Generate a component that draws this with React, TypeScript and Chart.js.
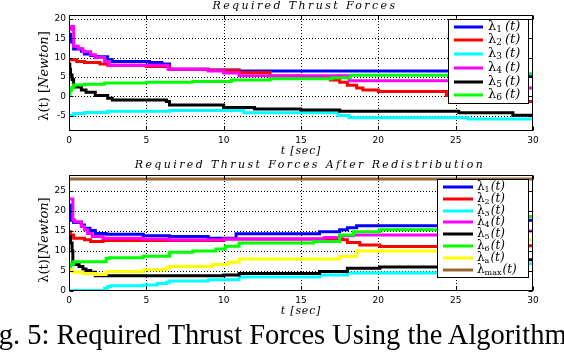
import React, { useEffect, useRef } from "react";
import { Chart, registerables } from "chart.js";
Chart.register(...registerables);

// ---------- axes ----------
const xTicks = [0, 5, 10, 15, 20, 25, 30];
const yTicksTop = [-5, 0, 5, 10, 15, 20];
const yTicksBottom = [0, 5, 10, 15, 20, 25];

// ---------- top plot: Required Thrust Forces ----------
const topL1T = [0, 0.1, 0.3, 0.8, 1.0, 1.4, 1.7, 2.5, 2.8, 5.2, 6.0, 6.5, 9.0, 11.0, 25.5, 30];
const topL1V = [16.0, 14.0, 12.2, 11.6, 10.9, 10.5, 10.2, 9.4, 9.0, 8.7, 8.3, 7.0, 6.8, 6.5, 5.2, 5.2];
const topL2T = [0, 0.5, 1.0, 2.0, 2.5, 5.0, 6.5, 9.0, 11.0, 13.0, 15.0, 16.9, 17.5, 18.0, 18.6, 19.0, 20.0, 24.4, 27, 30];
const topL2V = [9.4, 9.0, 8.7, 8.3, 8.0, 7.7, 7.0, 6.7, 6.1, 5.2, 4.6, 4.2, 3.6, 2.8, 2.1, 1.6, 1.2, 0.2, -1.4, -1.4];
const topL3T = [0, 0.3, 1.0, 2.5, 6.5, 11.3, 17.4, 18.1, 25.8, 30];
const topL3V = [-5.0, -4.5, -4.2, -3.9, -3.7, -4.3, -5.0, -5.6, -5.9, -5.9];
const topL4T = [0, 0.1, 0.3, 0.6, 0.9, 1.4, 1.7, 2.3, 2.6, 6.4, 9.0, 10.0, 11.0, 18.1, 25.5, 30];
const topL4V = [17.3, 18.0, 12.9, 12.3, 11.5, 10.7, 10.0, 9.0, 8.0, 7.0, 6.5, 6.0, 5.3, 4.0, 2.1, 2.1];
const topL5T = [0, 0.05, 0.1, 0.2, 0.3, 0.8, 1.1, 1.7, 2.5, 2.8, 6.3, 6.5, 10.0, 12.0, 15.0, 17.5, 25.2, 28.7, 30];
const topL5V = [8.3, 7.0, 5.5, 4.3, 2.4, 1.6, 1.0, 0.2, -0.5, -1.0, -1.4, -2.3, -2.9, -3.3, -3.6, -3.9, -4.3, -4.9, -4.9];
const topL6T = [0, 0.05, 0.15, 0.3, 1.0, 2.3, 5.0, 8.0, 10.5, 13.0, 17.0, 18.2, 25.5, 30];
const topL6V = [0.5, 1.5, 2.2, 2.9, 3.1, 3.4, 3.6, 3.8, 4.2, 4.5, 4.8, 5.4, 5.8, 5.8];

// ---------- bottom plot: After Redistribution ----------
const botL1T = [0, 0.1, 0.3, 0.8, 1.0, 1.35, 1.7, 2.4, 4.8, 6.5, 9.0, 10.8, 16.2, 17.5, 18.0, 18.6, 25.5, 30];
const botL1V = [21.5, 17.7, 17.1, 16.5, 15.7, 15.1, 14.4, 14.2, 13.8, 13.6, 13.2, 14.3, 14.8, 15.3, 15.8, 16.3, 17.7, 17.7];
const botL2T = [0, 0.1, 0.3, 1.0, 1.4, 2.2, 10.0, 17.7, 18.0, 18.8, 20.1, 25.5, 30];
const botL2V = [14.8, 14.0, 13.2, 12.8, 12.4, 12.6, 13.0, 12.8, 12.1, 11.5, 11.1, 11.3, 11.3];
const botL3T = [0, 2.3, 2.5, 2.7, 4.8, 5.7, 6.3, 6.5, 9.0, 11.0, 16.2, 18.0, 25.5, 30];
const botL3V = [0.1, 0.7, 1.1, 1.3, 1.5, 1.9, 2.2, 2.5, 2.8, 3.5, 4.0, 4.5, 6.8, 6.8];
const botL4T = [0, 0.25, 0.35, 0.8, 1.0, 1.2, 1.5, 2.2, 4.8, 6.5, 10.0, 16.5, 17.5, 18.4, 25.5, 30];
const botL4V = [23.0, 17.8, 17.3, 16.1, 15.3, 14.4, 13.6, 13.2, 13.0, 12.8, 13.0, 13.4, 13.8, 14.0, 15.0, 15.0];
const botL5T = [0, 0.1, 0.2, 0.25, 0.65, 0.9, 1.1, 1.4, 1.7, 10.0, 11.0, 16.2, 18.0, 20.1, 25.5, 30];
const botL5V = [13.6, 12.0, 10.0, 6.6, 6.1, 5.5, 5.1, 4.7, 3.8, 4.0, 4.4, 4.9, 5.7, 6.0, 7.8, 7.8];
const botL6T = [0, 0.1, 0.3, 2.4, 2.6, 4.8, 6.5, 8.0, 9.5, 10.1, 11.0, 15.8, 17.5, 18.4, 20.1, 25.5, 30];
const botL6V = [6.0, 6.7, 7.3, 8.1, 8.3, 8.7, 9.7, 10.0, 10.5, 11.2, 12.0, 12.4, 14.0, 14.8, 15.3, 18.6, 18.6];
const botLaT = [0, 0.25, 0.9, 1.7, 2.4, 4.8, 6.3, 6.5, 9.3, 10.3, 11.0, 17.5, 18.6, 25.5, 30];
const botLaV = [5.3, 4.7, 4.4, 4.1, 4.9, 5.3, 5.8, 6.1, 6.6, 7.2, 8.0, 8.6, 10.0, 12.8, 12.8];
const botMaxT = [0, 30];
const botMaxV = [28, 28];

const topSubs = ["1", "2", "3", "4", "5", "6"];
const botSubs = ["1", "2", "3", "4", "5", "6", "a", "max"];
const topColors = ["#0000ff", "#ff0000", "#00ffff", "#ff00ff", "#000000", "#00ff00"];
const botColors = ["#0000ff", "#ff0000", "#00ffff", "#ff00ff", "#000000", "#00ff00", "#ffff00", "#996633"];

const topSeries = [
  [topL1T, topL1V], [topL2T, topL2V], [topL3T, topL3V],
  [topL4T, topL4V], [topL5T, topL5V], [topL6T, topL6V],
];
const botSeries = [
  [botL1T, botL1V], [botL2T, botL2V], [botL3T, botL3V], [botL4T, botL4V],
  [botL5T, botL5V], [botL6T, botL6V], [botLaT, botLaV], [botMaxT, botMaxV],
];

const pts = (ts: number[], vs: number[]) => ts.map((t, i) => ({ x: t, y: vs[i] }));

const framePlugin = {
  id: "matFrame",
  beforeDatasetsDraw(chart: any) {
    const { ctx, chartArea: a, scales } = chart;
    ctx.save();
    ctx.strokeStyle = "#000";
    ctx.lineWidth = 1;
    ctx.setLineDash([1, 2]);
    scales.x.ticks.forEach((t: any) => {
      const px = Math.round(scales.x.getPixelForValue(t.value)) + 0.5;
      if (px <= a.left + 1 || px >= a.right - 1) return;
      ctx.beginPath(); ctx.moveTo(px, a.top); ctx.lineTo(px, a.bottom); ctx.stroke();
    });
    scales.y.ticks.forEach((t: any) => {
      const py = Math.round(scales.y.getPixelForValue(t.value)) + 0.5;
      if (py <= a.top + 1 || py >= a.bottom - 1) return;
      ctx.beginPath(); ctx.moveTo(a.left, py); ctx.lineTo(a.right, py); ctx.stroke();
    });
    ctx.restore();
  },
  afterDatasetsDraw(chart: any) {
    const { ctx, chartArea: a, scales } = chart;
    ctx.save();
    ctx.strokeStyle = "#000";
    ctx.lineWidth = 1;
    ctx.setLineDash([]);
    const L = Math.round(a.left) + 0.5, R = Math.round(a.right) - 0.5;
    const T = Math.round(a.top) + 0.5, B = Math.round(a.bottom) - 0.5;
    ctx.strokeRect(L, T, R - L, B - T);
    const tl = 4;
    ctx.beginPath();
    scales.x.ticks.forEach((t: any) => {
      const px = Math.round(scales.x.getPixelForValue(t.value)) + 0.5;
      ctx.moveTo(px, B); ctx.lineTo(px, B - tl);
      ctx.moveTo(px, T); ctx.lineTo(px, T + tl);
    });
    scales.y.ticks.forEach((t: any) => {
      const py = Math.round(scales.y.getPixelForValue(t.value)) + 0.5;
      ctx.moveTo(L, py); ctx.lineTo(L + tl, py);
      ctx.moveTo(R, py); ctx.lineTo(R - tl, py);
    });
    ctx.stroke();
    ctx.restore();
  },
  afterDraw(chart: any) {
    const cfg = chart.options.plugins.boxLegend;
    if (!cfg) return;
    const { ctx } = chart;
    ctx.save();
    ctx.fillStyle = "#fff";
    ctx.fillRect(cfg.x, cfg.y, cfg.w, cfg.h);
    ctx.strokeStyle = "#000";
    ctx.lineWidth = 1;
    ctx.strokeRect(cfg.x + 0.5, cfg.y + 0.5, cfg.w, cfg.h);
    chart.data.datasets.forEach((ds: any, i: number) => {
      const cy = Math.round(cfg.firstY + i * cfg.rowH);
      ctx.strokeStyle = ds.borderColor;
      ctx.lineWidth = 3;
      ctx.beginPath(); ctx.moveTo(cfg.lineX0, cy); ctx.lineTo(cfg.lineX1, cy); ctx.stroke();
      ctx.fillStyle = "#000";
      ctx.textBaseline = "middle";
      ctx.textAlign = "left";
      let tx = cfg.textX;
      ctx.font = `${cfg.fontSize}px "DejaVu Serif"`;
      ctx.fillText("λ", tx, cy);
      tx += ctx.measureText("λ").width;
      ctx.font = `${cfg.subSize}px "DejaVu Serif"`;
      ctx.fillText(cfg.subs[i], tx, cy + 3);
      tx += ctx.measureText(cfg.subs[i]).width + cfg.gap;
      ctx.font = `italic ${cfg.fontSize}px "DejaVu Serif"`;
      ctx.fillText("(t)", tx, cy);
    });
    ctx.restore();
  },
};

function makeChart(canvas: HTMLCanvasElement, series: any[], colors: string[], subs: string[], yMin: number, yMax: number, yTicks: number[], bottomPad: number, legend: any) {
  const datasets = series.map(([ts, vs], i) => ({
    label: "λ" + subs[i] + "(t)",
    data: pts(ts, vs),
    borderColor: colors[i],
    backgroundColor: colors[i],
    borderWidth: 3,
    pointRadius: 0,
    stepped: true,
    fill: false,
    borderCapStyle: "butt",
    borderJoinStyle: "miter",
    order: 20 - i,
  }));
  const tickFont = { family: "DejaVu Sans", size: 9 };
  return new Chart(canvas, {
    type: "line",
    data: { datasets },
    plugins: [framePlugin],
    options: {
      animation: false,
      responsive: false,
      devicePixelRatio: 1,
      events: [],
      layout: { padding: { left: 0, right: 31, top: 15, bottom: bottomPad } },
      plugins: {
        legend: { display: false },
        tooltip: { enabled: false },
        title: { display: false },
        boxLegend: legend,
      } as any,
      scales: {
        x: {
          type: "linear",
          min: 0,
          max: 30,
          afterBuildTicks: (s: any) => { s.ticks = xTicks.map((v) => ({ value: v })); },
          afterFit: (s: any) => { s.height = 20; },
          grid: { display: false, drawTicks: false },
          border: { display: false },
          ticks: { color: "#000", font: tickFont, padding: 4, maxRotation: 0, autoSkip: false },
        },
        y: {
          type: "linear",
          min: yMin,
          max: yMax,
          afterBuildTicks: (s: any) => { s.ticks = yTicks.map((v) => ({ value: v })); },
          afterFit: (s: any) => { s.width = 69; },
          grid: { display: false, drawTicks: false },
          border: { display: false },
          ticks: { color: "#000", font: tickFont, padding: 3, autoSkip: false },
        },
      },
    } as any,
  });
}

export default function App() {
  const topRef = useRef<HTMLCanvasElement>(null);
  const botRef = useRef<HTMLCanvasElement>(null);
  useEffect(() => {
    const c1 = makeChart(topRef.current!, topSeries, topColors, topSubs, -9, 21, yTicksTop, 9, {
      x: 448, y: 19, w: 80, h: 84, firstY: 26.7, rowH: 13.7, lineX0: 454, lineX1: 483, textX: 488,
      fontSize: 13, subSize: 9, gap: 3, subs: topSubs,
    });
    const c2 = makeChart(botRef.current!, botSeries, botColors, botSubs, 0, 29, yTicksBottom, 41, {
      x: 437, y: 19, w: 91, h: 98, firstY: 26.7, rowH: 11.9, lineX0: 443, lineX1: 473, textX: 477,
      fontSize: 12, subSize: 8, gap: 1, subs: botSubs,
    });
    return () => { c1.destroy(); c2.destroy(); };
  }, []);

  const titleStyle: React.CSSProperties = {
    position: "absolute", transform: "translateX(-50%)", whiteSpace: "nowrap",
    fontFamily: '"DejaVu Serif"', fontStyle: "italic", fontSize: 11, lineHeight: "12px", letterSpacing: "2.4px", color: "#000",
  };
  const xlab: React.CSSProperties = {
    position: "absolute", transform: "translateX(-50%)", whiteSpace: "nowrap",
    fontFamily: '"DejaVu Serif"', fontStyle: "italic", fontSize: 11, lineHeight: "12px", letterSpacing: "0.8px", color: "#000",
  };
  const ylab: React.CSSProperties = {
    position: "absolute", transform: "translate(-50%,-50%) rotate(-90deg)", whiteSpace: "nowrap",
    fontFamily: '"DejaVu Serif"', fontSize: 13, lineHeight: "15px", color: "#000",
  };
  return (
    <div style={{ position: "fixed", left: 0, top: 0, width: 564, height: 352, overflow: "hidden", background: "#fff" }}>
      <canvas ref={topRef} width={564} height={160} style={{ position: "absolute", left: 0, top: 0, width: 564, height: 160 }} />
      <canvas ref={botRef} width={564} height={192} style={{ position: "absolute", left: 0, top: 160, width: 564, height: 192 }} />
      <div style={{ ...titleStyle, left: 305, top: 0 }}>Required Thrust Forces</div>
      <div style={{ ...titleStyle, left: 310, top: 159 }}>Required Thrust Forces After Redistribution</div>
      <div style={{ ...xlab, left: 301, top: 145 }}>t [sec]</div>
      <div style={{ ...xlab, left: 301, top: 305 }}>t [sec]</div>
      <div style={{ ...ylab, left: 43, top: 76 }}>λ(t) [<i>Newton</i>]</div>
      <div style={{ ...ylab, left: 43, top: 240 }}>λ(t)[<i>Newton</i>]</div>
      <div style={{ position: "absolute", left: -25, top: 321, whiteSpace: "nowrap", fontFamily: '"Liberation Serif"', fontSize: 28.5, lineHeight: "28px", color: "#000" }}>
        Fig. 5: Required Thrust Forces Using the Algorithm
      </div>
    </div>
  );
}
